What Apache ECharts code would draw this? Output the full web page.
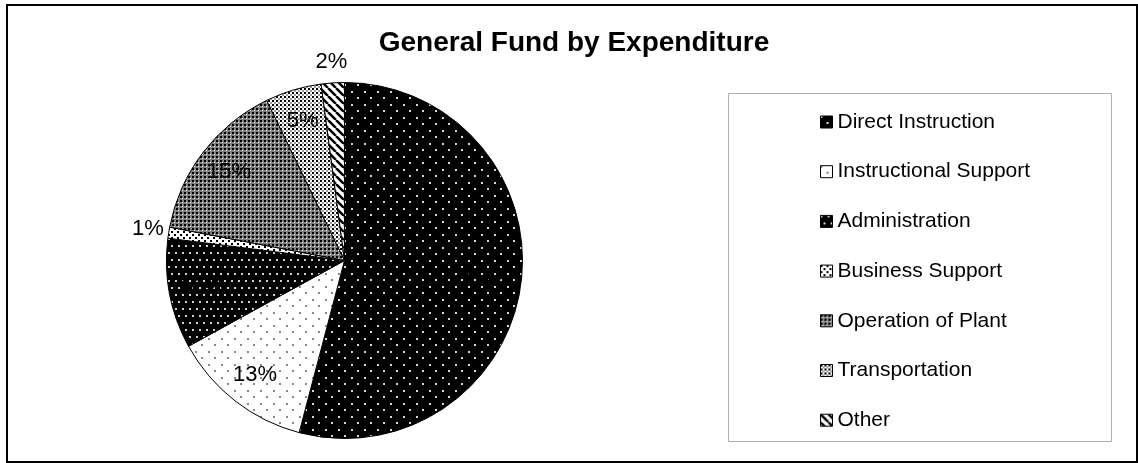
<!DOCTYPE html>
<html>
<head>
<meta charset="utf-8">
<script src="https://cdn.jsdelivr.net/npm/echarts@6/dist/echarts.min.js"></script>
<style>
html,body{margin:0;padding:0;background:#fff;}
#chart{width:1138px;height:463px;}
</style>
</head>
<body>
<div id="chart"></div>
<script>
const titleText = 'General Fund by Expenditure';
const categories = ['Direct Instruction','Instructional Support','Administration','Business Support','Operation of Plant','Transportation','Other'];
const values = [54.1, 12.9, 10.0, 1.0, 14.8, 5.1, 2.1];

// style config (not data): which slices get their label outside the pie
const outsideLabels = ['Business Support', 'Other'];

function makePattern(w, h, draw) {
  const c = document.createElement('canvas');
  c.width = w; c.height = h;
  const g = c.getContext('2d');
  draw(g, w, h);
  return { image: c, repeat: 'repeat' };
}
const patterns = {
  'Direct Instruction': makePattern(13, 13, (g) => {
    g.fillStyle = '#000'; g.fillRect(0,0,13,13);
    g.fillStyle = '#d8d8d8'; g.fillRect(0,0,2,2); g.fillRect(6,6,2,2);
  }),
  'Instructional Support': makePattern(13, 13, (g) => {
    g.fillStyle = '#fff'; g.fillRect(0,0,13,13);
    g.fillStyle = '#888'; g.fillRect(0,0,2,2); g.fillRect(6,6,2,2);
  }),
  'Administration': makePattern(7, 14, (g) => {
    g.fillStyle = '#000'; g.fillRect(0,0,7,14);
    g.fillStyle = '#d0d0d0'; g.fillRect(0,0,2,2); g.fillRect(3,7,2,2);
  }),
  'Business Support': makePattern(6, 6, (g) => {
    g.fillStyle = '#fff'; g.fillRect(0,0,6,6);
    g.fillStyle = '#000'; g.fillRect(0,0,2,2); g.fillRect(3,3,2,2);
  }),
  'Operation of Plant': makePattern(4, 4, (g) => {
    g.fillStyle = '#808080'; g.fillRect(0,0,4,4);
    g.fillStyle = '#000'; g.fillRect(0,0,2,2);
    g.fillStyle = '#fff'; g.fillRect(2,2,1,1);
  }),
  'Transportation': makePattern(4, 4, (g) => {
    g.fillStyle = '#fff'; g.fillRect(0,0,4,4);
    g.fillStyle = '#000'; g.fillRect(0,0,2,2);
    g.fillStyle = '#999'; g.fillRect(2,2,2,2);
  }),
  'Other': makePattern(8, 8, (g) => {
    g.fillStyle = '#fff'; g.fillRect(0,0,8,8);
    g.strokeStyle = '#000'; g.lineWidth = 2.5;
    for (let k = -8; k <= 8; k += 8) {
      g.beginPath(); g.moveTo(k, 0); g.lineTo(k + 8, 8); g.stroke();
    }
  })
};

const pieData = categories.map((name, i) => ({
  name: name,
  value: values[i],
  itemStyle: { color: patterns[name] }
}));

function labelRing(showOutside) {
  return categories.map((name, i) => {
    const isOut = outsideLabels.indexOf(name) >= 0;
    return { name: name, value: values[i], label: { show: isOut === showOutside } };
  });
}

const chart = echarts.init(document.getElementById('chart'), null, { renderer: 'canvas' });
const center = [344.5, 260.5];
const R = 178;
const labelStyle = {
  position: 'inside',
  formatter: (p) => Math.round(p.percent) + '%',
  fontFamily: 'Liberation Sans', fontSize: 22, color: '#000'
};
const ringBase = {
  type: 'pie',
  center: center,
  startAngle: 90,
  clockwise: true,
  silent: true,
  legendHoverLink: false,
  avoidLabelOverlap: false,
  itemStyle: { color: 'rgba(0,0,0,0)', borderWidth: 0 },
  labelLine: { show: false },
  label: labelStyle
};
chart.setOption({
  animation: false,
  backgroundColor: '#fff',
  title: {
    text: titleText,
    left: 569, top: 24, textAlign: 'center',
    textStyle: { fontFamily: 'Liberation Sans', fontWeight: 'bold', fontSize: 28, color: '#000' }
  },
  legend: {
    orient: 'vertical',
    left: 815, top: 106,
    itemWidth: 12, itemHeight: 12, itemGap: 27.7,
    icon: 'rect',
    data: categories,
    selectedMode: false,
    textStyle: { fontFamily: 'Liberation Sans', fontSize: 21, color: '#000', lineHeight: 22 },
    itemStyle: { borderColor: '#000', borderWidth: 1 }
  },
  graphic: [
    { type: 'rect', shape: { x: 7, y: 5, width: 1130, height: 457 }, style: { fill: 'none', stroke: '#000', lineWidth: 2 }, silent: true },
    { type: 'rect', shape: { x: 728.5, y: 93.5, width: 383, height: 348 }, style: { fill: 'none', stroke: '#b0b0b0', lineWidth: 1 }, silent: true }
  ],
  series: [
    {
      type: 'pie',
      center: center,
      radius: [0, R],
      startAngle: 90,
      clockwise: true,
      silent: true,
      label: { show: false },
      labelLine: { show: false },
      itemStyle: { borderColor: '#000', borderWidth: 1 },
      data: pieData
    },
    Object.assign({}, ringBase, { radius: [107, R], data: labelRing(false) }),
    Object.assign({}, ringBase, { radius: [R, R + 36], data: labelRing(true) })
  ]
});
</script>
</body>
</html>
